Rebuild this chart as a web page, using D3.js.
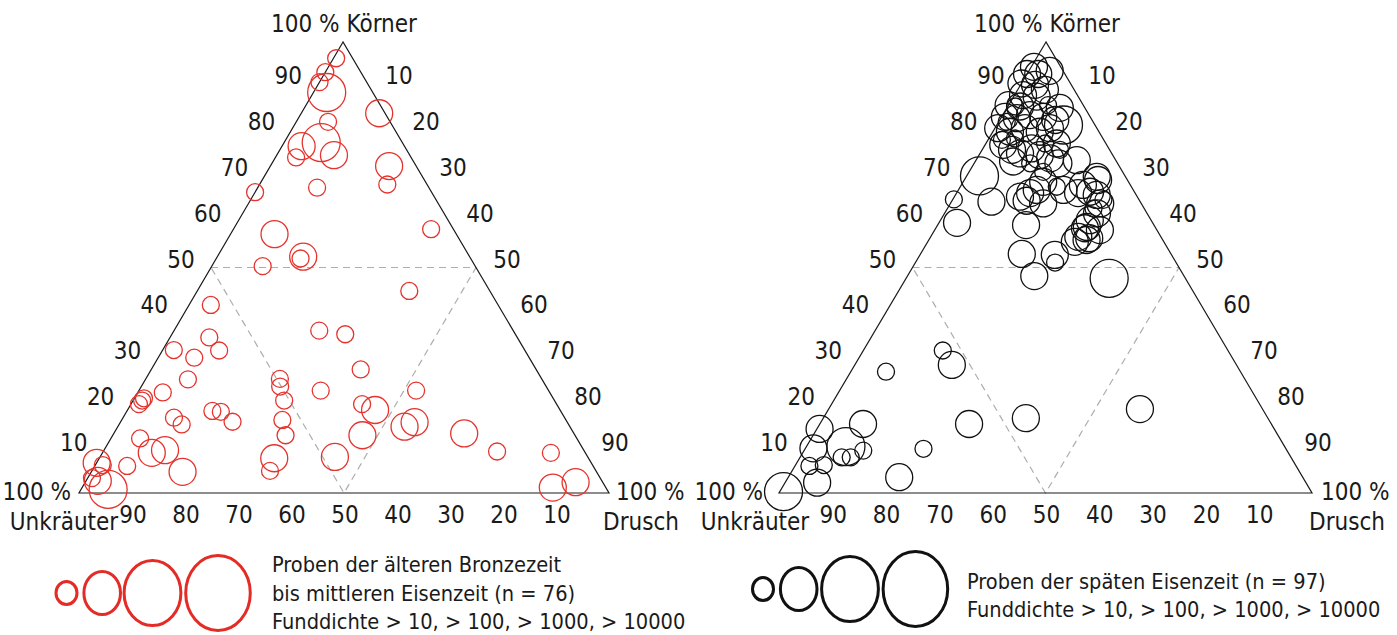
<!DOCTYPE html>
<html>
<head>
<meta charset="utf-8">
<script src="https://cdn.jsdelivr.net/npm/d3@7"></script>
<style>
  html, body { margin: 0; padding: 0; background: #fff; }
</style>
</head>
<body>
<svg id="chart" width="1397" height="635"></svg>
<script>
// Ternary coordinates in percent: Körner (apex), Drusch (bottom right), Unkräuter = rest.
// Klasse = Funddichte class: 1 (>10), 2 (>100), 3 (>1000), 4 (>10000).

// Ältere Bronzezeit bis mittlere Eisenzeit.
const bronzeKoerner = [96.4, 93.3, 91.1, 88.8, 84.2, 82.3, 77.7, 76.9, 74.4, 74.9, 72.5, 68.4, 67.7, 66.7, 57.4, 58.5, 52.4, 52.0, 50.3, 41.7,
  34.5, 31.6, 31.7, 30.0, 25.2, 22.3, 21.0, 20.5, 19.7, 18.2, 18.0, 15.8, 16.7, 15.2, 12.1, 8.9, 9.5, 4.7, 6.0, 6.7,
  6.2, 2.7, 0.8, 3.3, 7.7, 4.9, 25.3, 23.6, 20.5, 16.2, 12.8, 36.0, 22.7, 44.8, 35.2, 27.4, 22.7, 19.7, 18.4, 14.7,
  15.7, 12.8, 8.0, 13.2, 9.2, 8.9, 1.2, 2.4];
const bronzeDrusch = [0.5, 0, 0, 2.5, 14.7, 6.0, 7.0, 3.7, 3.9, 10.8, 22.4, 24.1, 11.2, 0, 8.3, 37.3, 16.2, 15.9, 9.6, 4.1,
  7.4, 10.7, 2.1, 6.8, 8.0, 4.7, 1.8, 1.7, 1.5, 16.1, 17.8, 21.1, 9.6, 11.8, 5.5, 9.3, 11.5, 17.2, 6.1, 0,
  1.4, 2.2, 5.1, 0.8, 33.0, 33.6, 25.3, 26.2, 28.5, 30.3, 32.6, 27.4, 34.3, 40.0, 32.7, 39.5, 52.3, 43.6, 46.7, 54.1,
  55.5, 47.1, 44.3, 66.1, 74.3, 84.6, 88.8, 92.5];
const bronzeKlasse = [1, 1, 1, 3, 2, 1, 3, 2, 1, 2, 2, 1, 1, 1, 2, 1, 2, 1, 1, 1,
  1, 1, 1, 1, 1, 1, 1, 1, 1, 1, 1, 1, 1, 1, 1, 2, 2, 2, 1, 2,
  1, 2, 3, 1, 2, 1, 1, 1, 1, 1, 1, 1, 1, 1, 1, 1, 1, 1, 2, 2,
  2, 2, 2, 2, 1, 1, 2, 2];

// Späte Eisenzeit.
const eisenKoerner = [0.3, 2.3, 6.0, 6.2, 9.9, 14.2, 10.3, 7.9, 7.9, 9.4, 15.3, 26.9, 3.5, 9.8, 31.6, 28.4, 15.3, 16.6, 18.6, 47.6,
  48.1, 51.1, 53.0, 52.8, 55.7, 56.1, 59.4, 70.3, 65.1, 64.6, 59.9, 64.8, 64.2, 58.7,
  66.5, 66.8, 69.4, 64.2, 62.0, 59.0, 56.8, 56.5, 65.0, 63.1,
  92.9, 92.9, 93.6, 90.8, 90.5, 88.2, 87.9, 86.0, 85.7, 83.4, 83.1, 83.8, 83.4, 81.6, 80.9, 80.1, 80.9, 80.1, 80.9, 78.3,
  78.6, 75.3, 76.4, 74.9, 74.2, 73.1, 73.1, 71.2, 73.8, 67.2, 67.9, 70.1, 94.5, 85.7, 82.3, 77.5, 77.5, 65.7,
  73.5, 69.0, 67.2, 66.5, 68.3, 66.1, 60.5, 58.3, 89.4, 86.0, 77.2, 76.1, 85.4, 82.7, 76.1];
const eisenDrusch = [0.7, 6.0, 2.7, 5.3, 1.5, 0.5, 7.4, 7.8, 9.5, 11.1, 8.1, 6.6, 20.8, 22.2, 14.9, 18.2, 28.0, 38.0, 58.4, 38.1,
  23.8, 26.2, 19.0, 25.3, 27.6, 29.6, 16.6, 2.4, 0.2, 7.5, 3.4, 14.0, 17.4, 28.0,
  22.8, 24.9, 25.1, 28.1, 28.6, 28.2, 27.7, 29.9, 28.3, 27.4,
  0, 2.1, 3.9, 0, 2.7, 1.6, 4.3, 0, 2.3, 0.6, 3.0, 5.1, 7.8, 12.5, 0.6, 3.2, 5.6, 8.8, 10.3, 2.6,
  4.9, 7.5, 9.1, 11.4, 13.7, 15.8, 10.5, 13.9, 18.9, 14.7, 18.1, 24.5, 0.5, 1.4, 1.5, 11.1, 13.3, 12.3,
  7.1, 15.0, 19.7, 13.8, 22.8, 26.5, 28.0, 31.0, 5.1, 7.4, 3.4, 5.6, 9.9, 10.4, 14.6];
const eisenKlasse = [3, 2, 1, 1, 2, 2, 3, 1, 1, 1, 2, 1, 2, 1, 1, 2, 2, 2, 2, 3,
  2, 1, 2, 2, 2, 2, 2, 3, 1, 2, 2, 2, 2, 2,
  2, 2, 2, 2, 2, 2, 2, 2, 1, 1,
  2, 2, 2, 2, 2, 2, 2, 2, 2, 2, 2, 2, 2, 3, 2, 2, 2, 2, 2, 1,
  1, 2, 2, 2, 2, 2, 1, 1, 2, 2, 1, 2, 2, 1, 1, 1, 2, 2,
  2, 2, 2, 2, 2, 2, 2, 2, 2, 1, 2, 2, 2, 2, 1];

const tickValues = [10, 20, 30, 40, 50, 60, 70, 80, 90];
const klassen = [1, 2, 3, 4];
const bronzeLegend = ['Proben der älteren Bronzezeit', 'bis mittleren Eisenzeit (n = 76)', 'Funddichte > 10, > 100, > 1000, > 10000'];
const eisenLegend = ['Proben der späten Eisenzeit (n = 97)', 'Funddichte > 10, > 100, > 1000, > 10000'];

const FONT = '"Liberation Sans Narrow", "DejaVu Sans Condensed", "Liberation Sans", sans-serif';

const svg = d3.select('#chart');
svg.append('rect').attr('width', 1397).attr('height', 635).attr('fill', '#fff');

// Radius for data circles per class.
const rScale = d3.scaleOrdinal().domain(klassen).range([8.5, 13.5, 19, 23]);

// Function to draw one ternary panel.
const drawPanel = (panel, koerner, drusch, klasse, color) => {
  const g = svg.append('g');

  // Scales: Körner moves up and towards the apex, Drusch moves right.
  const yScale = d3.scaleLinear().domain([0, 100]).range([panel.base, panel.top]);
  const xLeft = d3.scaleLinear().domain([0, 100]).range([panel.left, panel.apex]);
  const dScale = d3.scaleLinear().domain([0, 100]).range([0, panel.right - panel.left]);
  const pos = (k, d) => [xLeft(k) + dScale(d), yScale(k)];

  // Dashed helper triangle through the 50 % points.
  const mid = [pos(50, 0), pos(50, 50), pos(0, 50)];
  g.append('path')
    .attr('d', d3.line()([mid[0], mid[1], mid[2], mid[0]]))
    .attr('fill', 'none')
    .attr('stroke', '#adadad')
    .attr('stroke-width', 1.2)
    .attr('stroke-dasharray', '7,5');

  // Outline.
  g.append('path')
    .attr('d', d3.line()([pos(100, 0), pos(0, 0), pos(0, 100)]) + 'Z')
    .attr('fill', 'none')
    .attr('stroke', '#1a1a1a')
    .attr('stroke-width', 1.2);

  // Circles.
  g.selectAll('circle.point')
    .data(koerner.map((k, i) => ({ k, d: drusch[i], c: klasse[i] })))
    .join('circle')
    .attr('class', 'point')
    .attr('cx', p => pos(p.k, p.d)[0])
    .attr('cy', p => pos(p.k, p.d)[1])
    .attr('r', p => rScale(p.c))
    .attr('fill', 'none')
    .attr('stroke', color)
    .attr('stroke-width', 1.3);

  const text = (x, y, s, anchor) => g.append('text')
    .attr('x', x).attr('y', y)
    .attr('text-anchor', anchor)
    .attr('font-family', FONT)
    .attr('font-size', 24)
    .attr('fill', '#1a1a1a')
    .text(s);

  // Tick labels (slightly spread along the edges).
  const spread = v => 50 + (v - 50) * 1.015;
  tickValues.forEach(v => {
    const [lx, ly] = pos(spread(v), 0);
    text(lx - 30, ly, v, 'middle');
    const [rx, ry] = pos(100 - spread(v), spread(v));
    text(rx + 31, ry, v, 'middle');
    const [bx] = pos(0, 100 - v);
    text(bx + 1, panel.base + 30, v, 'middle');
  });

  // Corner labels.
  text(panel.apex + 1, panel.top - 10, '100 % Körner', 'middle');
  text(panel.left - panel.gapL, panel.base + 7, '100 %', 'end');
  text(panel.left + panel.unkX, panel.base + 37, 'Unkräuter', 'middle');
  text(panel.right + panel.gapR, panel.base + 7, '100 %', 'start');
  text(panel.right + panel.druschX, panel.base + 37, 'Drusch', 'end');
};

const leftPanel = { left: 79, right: 609, apex: 343, top: 42, base: 493, gapL: 8, gapR: 7, unkX: -15, druschX: 70 };
const rightPanel = { left: 779, right: 1312, apex: 1046, top: 42, base: 493, gapL: 16, gapR: 9, unkX: -24, druschX: 73 };

drawPanel(leftPanel, bronzeKoerner, bronzeDrusch, bronzeKlasse, '#e5332d');
drawPanel(rightPanel, eisenKoerner, eisenDrusch, eisenKlasse, '#111');

// Legends.
const legendRx = d3.scaleOrdinal().domain(klassen).range([10.5, 18.3, 28.4, 32.3]);
const legendRy = d3.scaleOrdinal().domain(klassen).range([11.5, 21.5, 32.5, 37.5]);

const drawLegend = (cx, cy, color, lines, tx, ty) => {
  const g = svg.append('g');
  g.selectAll('ellipse')
    .data(klassen)
    .join('ellipse')
    .attr('cx', (c, i) => cx[i])
    .attr('cy', cy)
    .attr('rx', c => legendRx(c))
    .attr('ry', c => legendRy(c))
    .attr('fill', 'none')
    .attr('stroke', color)
    .attr('stroke-width', 3);
  g.selectAll('text')
    .data(lines)
    .join('text')
    .attr('x', tx)
    .attr('y', (s, i) => ty + i * 28.6)
    .attr('font-family', FONT)
    .attr('font-size', 21.6)
    .attr('fill', '#1a1a1a')
    .text(s => s);
};

drawLegend([66.5, 102.2, 152.5, 218], 593, '#e42b26', bronzeLegend, 272, 572);
drawLegend([763, 798.7, 850, 915.4], 589, '#111', eisenLegend, 967, 588.5);
</script>
</body>
</html>
